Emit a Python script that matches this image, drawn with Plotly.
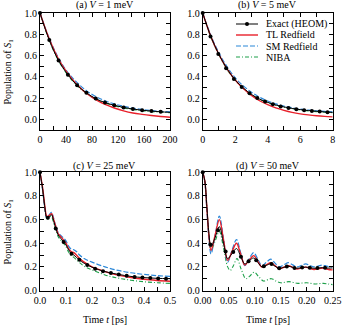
import plotly.graph_objects as go

# ---------------- data ----------------
# (a) V = 1 meV, time in fs
t_a = [0, 14.3, 28.6, 42.9, 57.1, 71.4, 85.7, 100, 114.3, 128.6, 142.9, 157.1, 171.4, 185.7, 200]
exact_a = [1.0, 0.745, 0.553, 0.42, 0.32, 0.25, 0.195, 0.158, 0.132, 0.112, 0.097, 0.086, 0.078, 0.071, 0.066]
tl_a = [1.0, 0.755, 0.565, 0.43, 0.325, 0.245, 0.185, 0.14, 0.107, 0.08, 0.06, 0.047, 0.036, 0.027, 0.02]
sm_a = [1.0, 0.76, 0.575, 0.44, 0.345, 0.27, 0.215, 0.175, 0.145, 0.123, 0.105, 0.093, 0.083, 0.076, 0.07]
niba_a = [1.0, 0.74, 0.55, 0.415, 0.315, 0.245, 0.19, 0.155, 0.128, 0.108, 0.092, 0.081, 0.073, 0.067, 0.063]
tm_a = [0, 14.3, 28.6, 42.9, 57.1, 71.4, 85.7, 100, 114.3, 128.6, 142.9, 157.1, 171.4, 185.7]
heom_a = [1.0, 0.745, 0.553, 0.42, 0.32, 0.25, 0.195, 0.158, 0.132, 0.112, 0.097, 0.086, 0.078, 0.071]

# (b) V = 5 meV
t_b = [0, 0.5, 1, 1.5, 2, 2.5, 3, 3.5, 4, 4.5, 5, 5.5, 6, 6.5, 7, 7.5, 8]
exact_b = [1.0, 0.78, 0.61, 0.475, 0.37, 0.295, 0.235, 0.19, 0.16, 0.135, 0.117, 0.103, 0.092, 0.083, 0.076, 0.07, 0.065]
tl_b = [1.0, 0.78, 0.61, 0.475, 0.37, 0.29, 0.225, 0.175, 0.138, 0.108, 0.085, 0.066, 0.052, 0.042, 0.034, 0.028, 0.023]
sm_b = [1.0, 0.79, 0.625, 0.495, 0.39, 0.315, 0.255, 0.208, 0.173, 0.146, 0.125, 0.109, 0.097, 0.088, 0.081, 0.075, 0.071]
niba_b = [1.0, 0.775, 0.605, 0.47, 0.365, 0.29, 0.232, 0.188, 0.157, 0.132, 0.114, 0.1, 0.089, 0.08, 0.073, 0.068, 0.063]
tm_b = [0, 0.48, 0.96, 1.44, 1.92, 2.4, 2.88, 3.36, 3.84, 4.32, 4.8, 5.28, 5.76, 6.24, 6.72, 7.2, 7.68]
heom_b = [1.0, 0.78, 0.615, 0.48, 0.38, 0.305, 0.245, 0.2, 0.168, 0.142, 0.122, 0.107, 0.095, 0.086, 0.079, 0.073, 0.068]

# (c) V = 25 meV, time in ps
t_c = [0, 0.01, 0.02, 0.025, 0.03, 0.04, 0.045, 0.05, 0.06, 0.07, 0.08, 0.09, 0.1, 0.11, 0.12,
       0.13, 0.14, 0.15, 0.17, 0.2, 0.25, 0.3, 0.35, 0.4, 0.45, 0.5]
exact_c = [1.0, 0.86, 0.68, 0.62, 0.615, 0.635, 0.64, 0.61, 0.53, 0.47, 0.44, 0.415, 0.385, 0.345, 0.315,
           0.3, 0.28, 0.26, 0.23, 0.197, 0.16, 0.137, 0.119, 0.109, 0.103, 0.1]
tl_c = [1.0, 0.87, 0.69, 0.63, 0.625, 0.645, 0.65, 0.62, 0.545, 0.48, 0.455, 0.43, 0.4, 0.355, 0.33,
        0.32, 0.3, 0.275, 0.24, 0.2, 0.16, 0.13, 0.11, 0.095, 0.085, 0.078]
sm_c = [1.0, 0.85, 0.67, 0.615, 0.62, 0.655, 0.66, 0.63, 0.55, 0.49, 0.465, 0.445, 0.42, 0.375, 0.35,
        0.345, 0.33, 0.305, 0.27, 0.24, 0.2, 0.17, 0.15, 0.136, 0.126, 0.119]
niba_c = [1.0, 0.85, 0.67, 0.61, 0.605, 0.625, 0.625, 0.59, 0.515, 0.455, 0.425, 0.4, 0.37, 0.325, 0.295,
          0.28, 0.26, 0.24, 0.205, 0.175, 0.132, 0.105, 0.087, 0.074, 0.066, 0.06]
tm_c = [0, 0.0303, 0.0606, 0.0909, 0.1212, 0.1515, 0.1818, 0.2121, 0.2424, 0.2727, 0.303, 0.3333,
        0.3636, 0.3939, 0.4242, 0.4545, 0.4848]
heom_c = [1.0, 0.615, 0.525, 0.41, 0.31, 0.26, 0.215, 0.185, 0.163, 0.147, 0.136, 0.124, 0.115, 0.11,
          0.106, 0.102, 0.1]

# (d) V = 50 meV
t_d = [0, 0.004, 0.008, 0.012, 0.016, 0.024, 0.032, 0.04, 0.048, 0.056, 0.065, 0.073, 0.081, 0.089,
       0.098, 0.106, 0.114, 0.122, 0.131, 0.139, 0.147, 0.156, 0.165, 0.173, 0.181, 0.19, 0.198,
       0.206, 0.214, 0.222, 0.23, 0.238, 0.246, 0.25]
exact_d = [1.0, 0.93, 0.71, 0.48, 0.37, 0.45, 0.54, 0.4, 0.27, 0.31, 0.355, 0.29, 0.225, 0.25,
           0.275, 0.237, 0.2, 0.212, 0.225, 0.206, 0.188, 0.196, 0.205, 0.196, 0.188, 0.193, 0.198,
           0.193, 0.188, 0.19, 0.193, 0.19, 0.19, 0.19]
tl_d = [1.0, 0.93, 0.7, 0.46, 0.34, 0.47, 0.6, 0.43, 0.255, 0.325, 0.4, 0.308, 0.215, 0.255,
        0.295, 0.247, 0.198, 0.216, 0.235, 0.21, 0.185, 0.197, 0.21, 0.196, 0.182, 0.19, 0.198,
        0.188, 0.178, 0.184, 0.19, 0.182, 0.175, 0.176]
sm_d = [1.0, 0.92, 0.68, 0.43, 0.31, 0.47, 0.63, 0.44, 0.24, 0.335, 0.43, 0.32, 0.21, 0.265,
        0.32, 0.265, 0.21, 0.237, 0.265, 0.232, 0.2, 0.217, 0.235, 0.217, 0.2, 0.212, 0.225,
        0.212, 0.2, 0.207, 0.215, 0.207, 0.2, 0.202]
tn_d = [0, 0.004, 0.008, 0.012, 0.016, 0.024, 0.032, 0.04, 0.048, 0.053, 0.059, 0.066, 0.074, 0.083,
        0.09, 0.099, 0.108, 0.117, 0.124, 0.132, 0.141, 0.15, 0.158, 0.166, 0.175, 0.183, 0.191,
        0.2, 0.208, 0.216, 0.224, 0.232, 0.241, 0.25]
niba_d = [1.0, 0.92, 0.7, 0.46, 0.34, 0.42, 0.5, 0.36, 0.2, 0.17, 0.21, 0.27, 0.18, 0.1,
          0.12, 0.155, 0.115, 0.08, 0.09, 0.1, 0.08, 0.065, 0.07, 0.075, 0.067, 0.06, 0.063,
          0.065, 0.06, 0.055, 0.058, 0.06, 0.055, 0.05]
tm_d = [0, 0.0147, 0.0294, 0.0441, 0.0588, 0.0735, 0.0882, 0.1029, 0.1176, 0.1324, 0.1471, 0.1618,
        0.1765, 0.1912, 0.2059, 0.2206, 0.2353]
heom_d = [1.0, 0.39, 0.51, 0.33, 0.325, 0.285, 0.247, 0.255, 0.205, 0.224, 0.188, 0.202, 0.191,
          0.194, 0.193, 0.19, 0.192]

panel_titles = ['(a) <i>V</i> = 1 meV', '(b) <i>V</i> = 5 meV',
                '(c) <i>V</i> = 25 meV', '(d) <i>V</i> = 50 meV']
legend_names = ['Exact (HEOM)', 'TL Redfield', 'SM Redfield', 'NIBA']

RED = '#e8202a'
BLUE = '#2b87d8'
GREEN = '#1ea04a'
FONT = 'Liberation Serif, Times New Roman, DejaVu Serif, serif'
NIBA_DASH = '4px,2px,1px,2px'
SM_DASH = '5px,2px'


def add_panel(fig, n, t, exact, tl, sm, tn, niba, tm, heom):
    """Add the four curves of one panel to axes number n"""
    xa = 'x' if n == 1 else f'x{n}'
    ya = 'y' if n == 1 else f'y{n}'

    fig.add_trace(go.Scatter(x=tn, y=niba, mode='lines', name='NIBA',
                             line=dict(color=GREEN, width=1.1, dash=NIBA_DASH, shape='spline'),
                             xaxis=xa, yaxis=ya))
    fig.add_trace(go.Scatter(x=t, y=sm, mode='lines', name='SM Redfield',
                             line=dict(color=BLUE, width=1.2, dash=SM_DASH, shape='spline'),
                             xaxis=xa, yaxis=ya))
    fig.add_trace(go.Scatter(x=t, y=tl, mode='lines', name='TL Redfield',
                             line=dict(color=RED, width=1.4, shape='spline'),
                             xaxis=xa, yaxis=ya))
    fig.add_trace(go.Scatter(x=t, y=exact, mode='lines', name='Exact (HEOM)',
                             line=dict(color='black', width=1, shape='spline'),
                             xaxis=xa, yaxis=ya))
    fig.add_trace(go.Scatter(x=tm, y=heom, mode='markers', name='Exact (HEOM)',
                             marker=dict(color='black', size=4),
                             cliponaxis=False, xaxis=xa, yaxis=ya))


fig = go.Figure()
add_panel(fig, 1, t_a, exact_a, tl_a, sm_a, t_a, niba_a, tm_a, heom_a)
add_panel(fig, 2, t_b, exact_b, tl_b, sm_b, t_b, niba_b, tm_b, heom_b)
add_panel(fig, 3, t_c, exact_c, tl_c, sm_c, t_c, niba_c, tm_c, heom_c)
add_panel(fig, 4, t_d, exact_d, tl_d, sm_d, tn_d, niba_d, tm_d, heom_d)


def axis(domain, rng, dtick, minor, fmt, anchor):
    return dict(domain=domain, range=rng, dtick=dtick, tick0=0, tickformat=fmt,
                ticks='inside', ticklen=4, tickwidth=0.8, tickcolor='black',
                minor=dict(dtick=minor, tick0=0, ticks='inside', ticklen=4,
                           tickwidth=0.8, tickcolor='black'),
                showline=True, linecolor='black', linewidth=1, mirror='allticks',
                showgrid=False, zeroline=False, anchor=anchor,
                automargin=False, ticklabeloverflow='allow',
                tickfont=dict(family=FONT, size=10, color='black'))


xl = [40 / 342, 170 / 342]
xr = [202.7 / 342, 332.7 / 342]
yt = [1 - 130 / 328, 1 - 13 / 328]
yb = [1 - 290.5 / 328, 1 - 172.3 / 328]

fig.update_layout(
    width=342, height=328,
    margin=dict(l=0, r=0, t=0, b=0),
    plot_bgcolor='white',
    paper_bgcolor='white',
    showlegend=False,
    font=dict(family=FONT, size=10, color='black'),
    xaxis=axis(xl, [0, 200], 40, 20, 'd', 'y'),
    yaxis=axis(yt, [-0.1, 1.0], 0.2, 0.1, '.1f', 'x'),
    xaxis2=axis(xr, [0, 8], 2, 1, 'd', 'y2'),
    yaxis2=axis(yt, [-0.1, 1.0], 0.2, 0.1, '.1f', 'x2'),
    xaxis3=axis(xl, [0, 0.5], 0.1, 0.05, '.1f', 'y3'),
    yaxis3=axis(yb, [0, 1.0], 0.2, 0.1, '.1f', 'x3'),
    xaxis4=axis(xr, [0, 0.25], 0.05, 0.025, '.2f', 'y4'),
    yaxis4=axis(yb, [0, 1.0], 0.2, 0.1, '.1f', 'x4'),
)

# compact legend in panel (b): sample lines as paper shapes, text as annotations
leg_styles = [dict(color='black', width=1), dict(color=RED, width=1.4),
              dict(color=BLUE, width=1.2, dash=SM_DASH), dict(color=GREEN, width=1.1, dash=NIBA_DASH)]
x0, x1, xt = 236 / 342, 258 / 342, 264 / 342
for i, (name, style) in enumerate(zip(legend_names, leg_styles)):
    yy = 1 - (24 + 11 * i) / 328
    fig.add_shape(type='line', xref='paper', yref='paper', x0=x0, x1=x1, y0=yy, y1=yy, line=style)
    fig.add_annotation(text=name, x=xt, y=yy, xref='paper', yref='paper', showarrow=False,
                       xanchor='left', yanchor='middle', font=dict(size=10))
    if i == 0:
        r = 2 / 342
        fig.add_shape(type='circle', xref='paper', yref='paper',
                      x0=(x0 + x1) / 2 - r, x1=(x0 + x1) / 2 + r,
                      y0=yy - 2 / 328, y1=yy + 2 / 328,
                      fillcolor='black', line=dict(color='black', width=0))

# panel titles and axis labels
cx = [(xl[0] + xl[1]) / 2, (xr[0] + xr[1]) / 2]
title_pos = [(cx[0], 1 - 5 / 328), (cx[1], 1 - 5 / 328), (cx[0], 1 - 166 / 328), (cx[1], 1 - 166 / 328)]
for txt, (x, y) in zip(panel_titles, title_pos):
    fig.add_annotation(text=txt, x=x, y=y, xref='paper', yref='paper', showarrow=False,
                       xanchor='center', yanchor='middle', font=dict(size=10))

for y in [(yt[0] + yt[1]) / 2, (yb[0] + yb[1]) / 2]:
    fig.add_annotation(text='Population of <i>S</i><sub>1</sub>', x=8 / 342, y=y,
                       xref='paper', yref='paper', showarrow=False, textangle=-90,
                       xanchor='center', yanchor='middle', font=dict(size=10))

for x in cx:
    fig.add_annotation(text='Time <i>t</i> [ps]', x=x, y=1 - 319 / 328,
                       xref='paper', yref='paper', showarrow=False,
                       xanchor='center', yanchor='middle', font=dict(size=10))

# the page's default body margin would push the figure 8px off the window
fig.write_html("out.html", config={'displayModeBar': False},
               post_script="document.body.style.margin='0px';")
